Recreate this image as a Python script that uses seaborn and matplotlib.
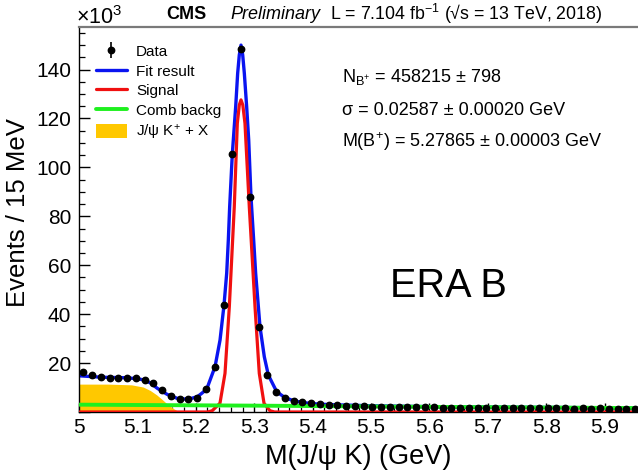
import numpy as np
import matplotlib
matplotlib.use("Agg")
import matplotlib.pyplot as plt
import seaborn as sns
from matplotlib.ticker import MultipleLocator, FuncFormatter
from matplotlib.patches import Patch
from matplotlib.lines import Line2D

# ---- binned data: events per 15 MeV bin, in units of 10^3 ----
bin_lo = 5.0
bin_width = 0.015
events_k = [
    16.2, 15.1, 14.3, 14.0, 14.0, 14.0, 13.9, 13.2, 11.9, 9.0,
    6.7, 5.2, 5.2, 5.8, 9.2, 18.5, 43.8, 105.4, 148.6, 88.0,
    34.8, 15.0, 8.2, 5.8, 4.5, 3.9, 3.7, 3.2, 2.9, 2.7,
    2.6, 2.5, 2.3, 2.2, 2.2, 2.2, 2.0, 1.9, 1.9, 1.9,
    1.9, 1.7, 1.7, 1.6, 1.7, 1.6, 1.7, 1.6, 1.6, 1.5,
    1.6, 1.5, 1.5, 1.6, 1.5, 1.5, 1.4, 1.5, 1.4, 1.5,
    1.4, 1.4, 1.4, 1.4,
]

# ---- fit components sampled along the mass axis (GeV, 10^3 events) ----
fit_mass = [5.000, 5.020, 5.040, 5.060, 5.080, 5.100, 5.111, 5.123, 5.134, 5.151,
            5.169, 5.180, 5.193, 5.203, 5.210, 5.2186, 5.2329, 5.2415, 5.2483, 5.2529,
            5.2557, 5.2580, 5.2625, 5.2683, 5.2717, 5.2745, 5.2774, 5.2803, 5.2831, 5.2871,
            5.2906, 5.2945, 5.2991, 5.3025, 5.3099, 5.3173, 5.3242, 5.3385, 5.3525, 5.3675,
            5.3825, 5.400, 5.430, 5.500, 5.600, 5.750, 5.9555]
fit_total = [14.8, 14.5, 14.2, 14.1, 14.0, 13.6, 13.1, 11.8, 9.7, 7.2,
             5.5, 5.3, 5.6, 6.3, 7.6, 9.3, 18.5, 29.4, 43.7, 56.7,
             70.3, 83.9, 105.4, 124.8, 138.5, 146.0, 150.0, 146.0, 138.5, 124.8,
             111.2, 88.0, 70.3, 56.7, 34.9, 22.6, 15.1, 8.3, 5.9, 4.6,
             3.9, 3.4, 3.0, 2.55, 2.2, 1.95, 1.65]

signal_mass = [5.000, 5.2200, 5.2280, 5.2414, 5.2500, 5.2574, 5.2659, 5.2711, 5.2745, 5.2774,
               5.2805, 5.2842, 5.2916, 5.3014, 5.3087, 5.3168, 5.3270, 5.3350, 5.9555]
signal = [0.0, 0.0, 0.5, 3.6, 15.8, 43.0, 83.9, 118.0, 125.5, 127.6,
          125.5, 118.0, 83.9, 43.0, 15.8, 3.6, 0.5, 0.0, 0.0]

comb_mass = [5.000, 5.300, 5.600, 5.9555]
comb = [3.0, 2.6, 2.1, 1.6]

jpsikx_mass = [5.000, 5.050, 5.090, 5.110, 5.122, 5.133, 5.142, 5.150, 5.161, 5.172]
jpsikx = [11.4, 11.4, 11.1, 10.2, 8.8, 7.0, 5.2, 3.5, 1.5, 0.0]

legend_labels = ["Data", "Fit result", "Signal", "Comb backg", r"J/ψ K$^{+}$ + X"]
x_range = (5.0, 5.9555)
y_range = (0.0, 157.4)

# ---- style ----
W, H = 638, 476
sns.set_theme(style="ticks")
plt.rcParams["font.family"] = ["Liberation Sans", "DejaVu Sans"]
plt.rcParams.update({
    "text.color": "black",
    "axes.labelcolor": "black",
    "xtick.color": "black",
    "ytick.color": "black",
    "mathtext.fontset": "custom",
    "mathtext.rm": "Liberation Sans",
    "mathtext.it": "Liberation Sans:italic",
    "mathtext.bf": "Liberation Sans:bold",
    "mathtext.sf": "Liberation Sans",
})


def px(x, y):
    """Pixel position (from top-left) to figure fraction."""
    return x / W, 1 - y / H


fig = plt.figure(figsize=(W / 100, H / 100), dpi=100)
L, R, T, B = 79, 637, 27, 412
ax = fig.add_axes([L / W, 1 - B / H, (R - L) / W, (B - T) / H])
ax.set_facecolor("white")

# J/psi K + X component (filled)
ax.fill_between(jpsikx_mass, 0, jpsikx, color="#ffc800", lw=0, zorder=1)

# total fit, signal, combinatorial background
sns.lineplot(x=fit_mass, y=fit_total, ax=ax, color="#0a14f0", lw=2.4,
             sort=False, estimator=None, zorder=2)
sns.lineplot(x=signal_mass, y=signal, ax=ax, color="#f01010", lw=2.3,
             sort=False, estimator=None, zorder=3)
sns.lineplot(x=comb_mass, y=comb, ax=ax, color="#1ef01e", lw=2.8,
             sort=False, estimator=None, zorder=4)

# data points with Poisson errors
centers = bin_lo + bin_width * (np.arange(len(events_k)) + 0.5)
vals = np.array(events_k)
yerr = np.sqrt(vals * 1000.0) / 1000.0
data_handle = ax.errorbar(centers, vals, yerr=yerr, fmt="o", color="black",
                          ms=4.6, elinewidth=1.2, capsize=0, zorder=6)

ax.set_xlim(*x_range)
ax.set_ylim(*y_range)
ax.set_xlabel("")
ax.set_ylabel("")

ax.xaxis.set_major_locator(MultipleLocator(0.1))
ax.xaxis.set_minor_locator(MultipleLocator(0.02))
ax.yaxis.set_major_locator(MultipleLocator(20))
ax.yaxis.set_minor_locator(MultipleLocator(5))
ax.xaxis.set_major_formatter(FuncFormatter(lambda v, p: f"{round(v, 1):g}"))
ax.yaxis.set_major_formatter(FuncFormatter(lambda v, p: "" if abs(v) < 1e-9 else f"{v:.0f}"))

ax.tick_params(axis="both", which="both", direction="in", colors="black",
               labelsize=15)
ax.tick_params(axis="x", which="major", length=6.5, width=1.0, pad=4)
ax.tick_params(axis="x", which="minor", length=3.6, width=0.9)
ax.tick_params(axis="y", which="major", length=8, width=1.0, pad=5.5)
ax.tick_params(axis="y", which="minor", length=4.3, width=0.9)

for side in ("left", "bottom"):
    ax.spines[side].set_color("black")
    ax.spines[side].set_linewidth(1.0)
ax.spines["top"].set_color("#7a7a7a")
ax.spines["top"].set_linewidth(1.6)
ax.spines["right"].set_visible(False)

# legend
handles = [
    data_handle,
    Line2D([], [], color="#0a14f0", lw=2.4),
    Line2D([], [], color="#f01010", lw=2.3),
    Line2D([], [], color="#1ef01e", lw=2.8),
    Patch(facecolor="#ffc800", edgecolor="none"),
]
ax.legend(handles, legend_labels, loc="upper left",
          bbox_to_anchor=px(96, 44), bbox_transform=fig.transFigure,
          frameon=False, fontsize=11, handlelength=2.0, handleheight=1.0,
          handletextpad=0.63, labelspacing=0.30, borderpad=0, borderaxespad=0)

# header
fig.text(*px(166.7, 19), "CMS", fontsize=13, fontweight="bold", va="baseline")
fig.text(*px(230, 19), "Preliminary", fontsize=13, style="italic", va="baseline")
fig.text(*px(330, 20), r"L = 7.104 fb$^{-1}$ (√s = 13 TeV, 2018)",
         fontsize=12.8, va="baseline")
fig.text(*px(76, 24), r"×10$^{3}$", fontsize=15.5, va="baseline")

# fit results
fig.text(*px(341.7, 81.7), r"N$_{\mathrm{B^{+}}}$ = 458215 ± 798", fontsize=13, va="baseline")
fig.text(*px(341.7, 115), "σ = 0.02587 ± 0.00020 GeV", fontsize=13, va="baseline")
fig.text(*px(341.7, 146.7), r"M(B$^{+}$) = 5.27865 ± 0.00003 GeV", fontsize=13, va="baseline")

fig.text(*px(390, 297), "ERA B", fontsize=28.5, va="baseline")

# axis titles
fig.text(*px(265, 464), "M(J/ψ K) (GeV)", fontsize=19.5, va="baseline")
fig.text(*px(18, 213), "Events / 15 MeV", fontsize=18.5, rotation=90,
         ha="center", va="center")

fig.savefig("out.png", dpi=100)
